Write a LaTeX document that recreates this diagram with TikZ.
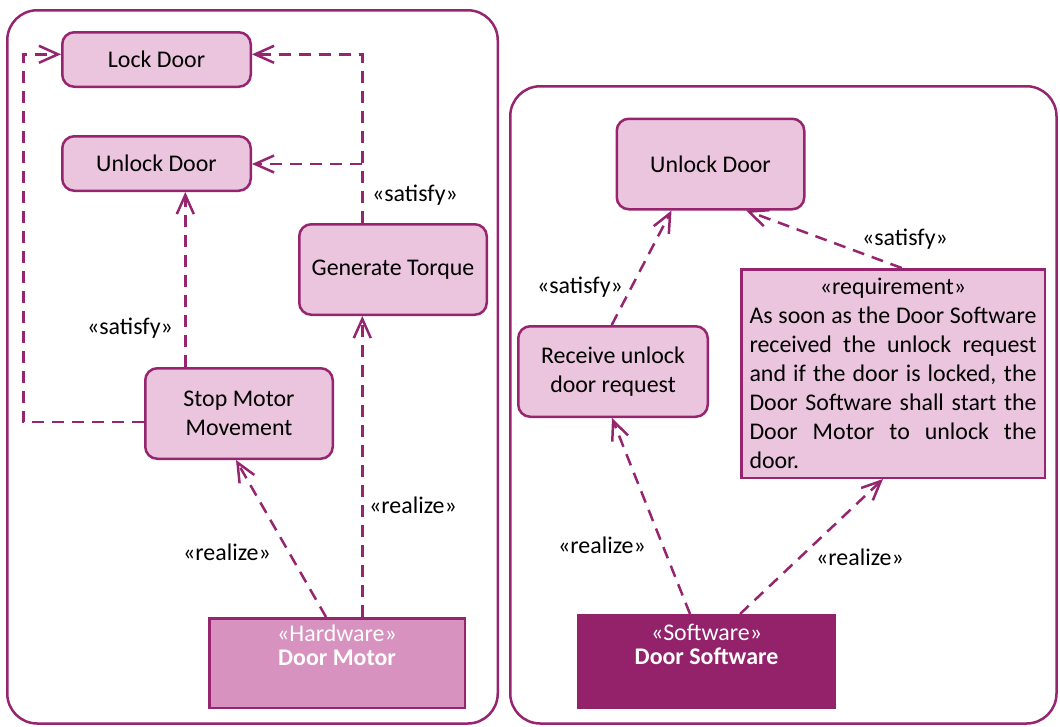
\documentclass[tikz,border=0pt]{standalone}
\usepackage{fontspec}
\setmainfont{Carlito}
\usetikzlibrary{arrows.meta}
\definecolor{pborder}{RGB}{150,36,110}
\definecolor{pfill}{RGB}{235,196,222}
\definecolor{hwfill}{RGB}{216,146,191}
\definecolor{swfill}{RGB}{147,34,106}
\tikzset{
  txt/.style={font=\fontsize{23.9pt}{28.9pt}\selectfont},
  blk/.style={txt, draw=pborder, fill=pfill, line width=2.5pt, rounded corners=12pt, align=center, inner sep=0pt},
  reqbox/.style={txt, draw=pborder, fill=pfill, line width=2.5pt, align=center, inner sep=0pt},
  compbox/.style={draw=pborder, line width=2.5pt, inner sep=0pt},
  comptext/.style={font=\fontsize{23.9pt}{24pt}\selectfont, text=white, align=center, inner sep=0pt},
  panel/.style={draw=pborder, line width=2.5pt, rounded corners=30pt},
  conn/.style={draw=pborder, line width=2.5pt, dash pattern=on 12pt off 8pt,
    -{Straight Barb[length=19pt,width=17pt,line width=2.5pt]}},
  lbl/.style={txt, inner sep=0pt}
}
\begin{document}
\begin{tikzpicture}[x=1pt,y=-1pt]
\useasboundingbox (0,0) rectangle (1060,726);
% panels
\draw[panel] (7.25,10.25) rectangle (497.75,723.5);
\draw[panel] (510.25,86.25) rectangle (1056.5,723.5);

% left panel nodes
\node[blk, minimum width=188.5pt, minimum height=54.5pt] (lock) at (156.5,59.5) {Lock Door};
\node[blk, minimum width=188.5pt, minimum height=54.5pt] (ulockL) at (156.5,163.5) {Unlock Door};
\node[blk, minimum width=187.5pt, minimum height=90.5pt] (gen) at (393,269.5) {Generate Torque};
\node[blk, minimum width=187.5pt, minimum height=90.5pt] (stop) at (239,413.5) {Stop Motor\\Movement};
\node[compbox, fill=hwfill, minimum width=255.5pt, minimum height=89.5pt] (dm) at (337,663) {};
\node[comptext] (dmt) at (337,645) {«Hardware»\\\textbf{Door Motor}};

% right panel nodes
\node[blk, minimum width=187.5pt, minimum height=90.5pt] (ulockR) at (710.5,164) {Unlock Door};
\node[blk, minimum width=189.5pt, minimum height=90.5pt] (recv) at (613,371.5) {Receive unlock\\door request};
\node[reqbox, minimum width=303.5pt, minimum height=208.5pt] (req) at (893,373.5) {%
  «requirement»\\
  \makebox[287pt][s]{As soon as the Door Software}\\
  \makebox[287pt][s]{received the unlock request}\\
  \makebox[287pt][s]{and if the door is locked, the}\\
  \makebox[287pt][s]{Door Software shall start the}\\
  \makebox[287pt][s]{Door Motor to unlock the}\\
  \makebox[287pt][l]{door.}};
\node[compbox, draw=swfill, fill=swfill, minimum width=256.5pt, minimum height=92.5pt] (ds) at (706.5,661.5) {};
\node[comptext] (dst) at (706.5,644) {«Software»\\\textbf{Door Software}};

% left connectors
\coordinate (lp1) at (23.3,422);
\coordinate (lp2) at (23.3,54.3);
\draw[conn] (lp1 -| stop.west) -- (lp1) -- (lp2) -- (lp2 -| lock.west);
\coordinate (gt1) at (362.3,54.3);
\coordinate (gt2) at (362.3,164);
\draw[conn] (gt1 |- gen.north) -- (gt1) -- (gt1 -| lock.east);
\draw[conn] (gt2) -- (gt2 -| ulockL.east);
\coordinate (su) at (185.3,0);
\draw[conn] (su |- stop.north) -- (su |- ulockL.south);
\draw[conn] (gt1 |- dm.north) -- (gt1 |- gen.south);
\coordinate (dms) at (326,0);
\coordinate (sms) at (236,0);
\draw[conn] (dms |- dm.north) -- (sms |- stop.south);

% right connectors
\coordinate (rc) at (611.7,0);
\coordinate (ur1) at (671.5,0);
\coordinate (ur2) at (746,0);
\coordinate (rq) at (901.7,0);
\coordinate (ds1) at (690,0);
\coordinate (ds2) at (740,0);
\coordinate (rcb) at (612,0);
\coordinate (rqb) at (883,0);
\draw[conn] (rc |- recv.north) -- (ur1 |- ulockR.south);
\draw[conn] (rq |- req.north) -- (ur2 |- ulockR.south);
\draw[conn] (ds1 |- ds.north) -- (rcb |- recv.south);
\draw[conn] (ds2 |- ds.north) -- (rqb |- req.south);

% labels
\node[lbl] (s1) at (415,195) {«satisfy»};
\node[lbl] (s2) at (130,328) {«satisfy»};
\node[lbl] (r1) at (413,505) {«realize»};
\node[lbl] (r2) at (227,552) {«realize»};
\node[lbl] (s3) at (580,287) {«satisfy»};
\node[lbl] (s4) at (905,239) {«satisfy»};
\node[lbl] (r3) at (602,545) {«realize»};
\node[lbl] (r4) at (860,557) {«realize»};
\end{tikzpicture}
\end{document}
